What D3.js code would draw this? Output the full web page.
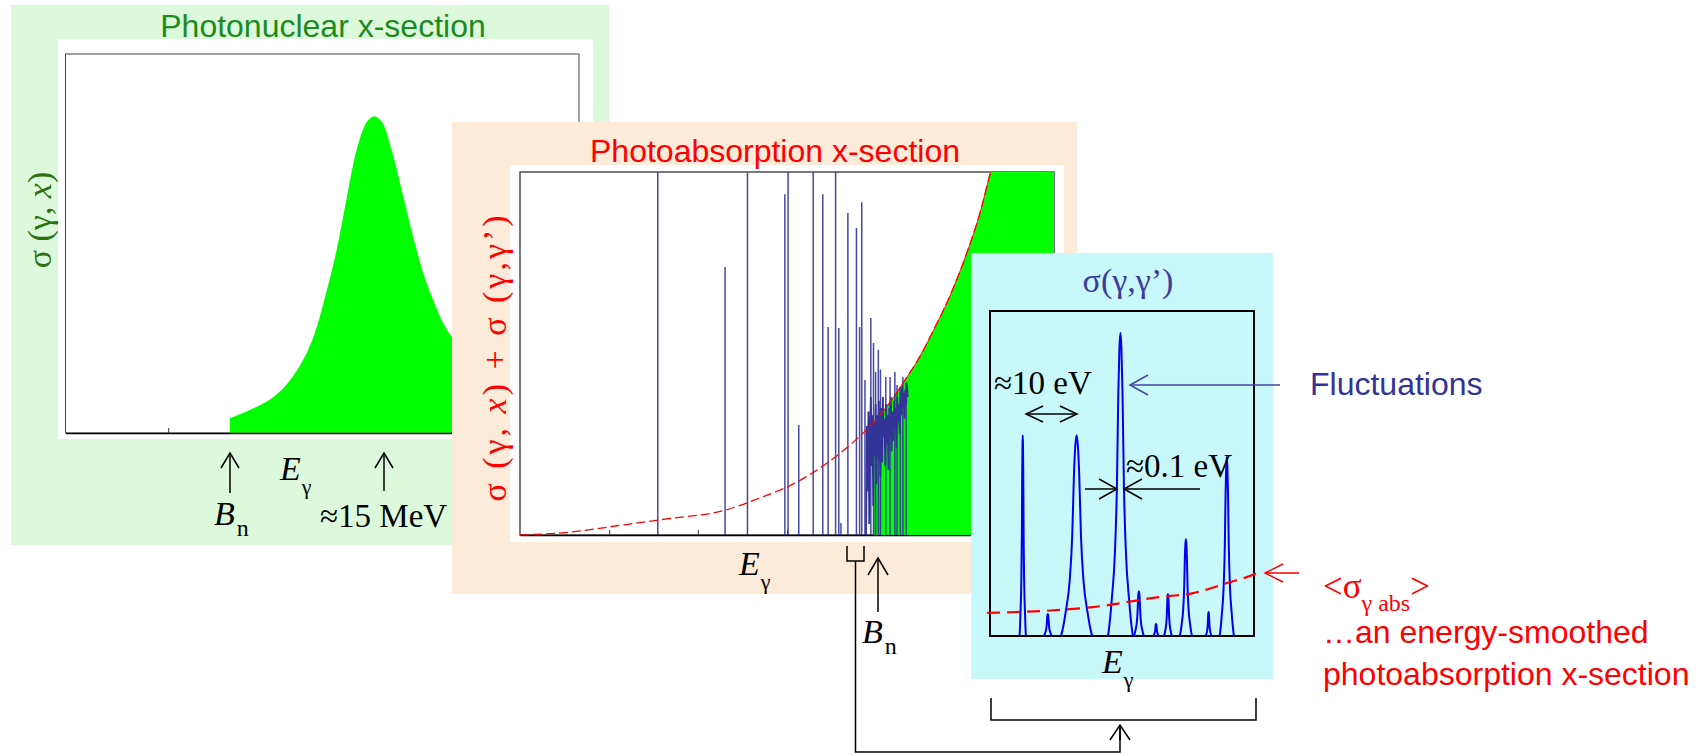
<!DOCTYPE html>
<html><head><meta charset="utf-8">
<script src="https://cdn.jsdelivr.net/npm/d3@7"></script>
<style>body{margin:0;background:#fff;} svg{display:block;}</style>
</head><body>
<svg id="c" width="1700" height="755"></svg>
<script>
// ================= DATA =================
// Panel 1: photonuclear giant resonance (x: arbitrary energy 0-100, y: 0-100)
const gdrPeak = [[32.0,3.9],[35.9,6.1],[39.2,8.3],[42.4,11.8],[45.7,17.9],[48.3,25.4],[50.9,37.7],[52.8,48.3],[54.8,62.3],[56.7,74.7],[58.7,82.1],[60.1,83.6],[61.6,82.1],[63.5,74.7],[65.8,62.3],[67.7,51.8],[69.7,42.1],[71.6,35.1],[73.6,28.9],[75.2,25.4],[80,18],[85,13.5],[90,10.5],[100,7]];
const panel1Ticks = [20];

// Panel 2: photoabsorption
const absCurve = [[0,0],[7.9,0.6],[19.5,2.8],[27.2,4.4],[38.6,6.9],[44.9,10.2],[51.1,14.0],[59.9,22.5],[63.7,27.3],[66.2,31.0],[69.3,36.6],[71.8,42.0],[74.9,49.2],[77.4,56.3],[80.5,65.8],[83.7,77.8],[86.1,88.5],[88.1,99.9],[92,120],[96,146],[100,175]];
const greenStart = 66.2;
const levelSpikes = [[25.8,100],[38.4,73.8],[42.6,99.7],[49.6,93.9],[50.2,100],[52.2,30.3],[54.9,100],[56.7,93.9],[57.7,57.3],[59.1,100],[59.7,57.0],[60.1,3.3],[61.4,88.7],[63.0,84.6],[63.6,57.3],[64.0,91.7],[64.6,42.7],[65.7,59.8],[66.2,52.9],[66.6,44.9],[67.1,51.0],[67.5,45.6],[68.5,43.5],[69.3,43.5],[70.2,44.9],[70.6,41.3],[71.2,40.8],[71.7,43.5],[72.3,41.9]];
const levelBlob = [[64.8,0],[64.95,30],[65.1,12],[65.25,34],[65.4,3],[65.55,29],[65.7,38],[65.85,19],[66.0,33],[66.15,8],[66.3,31],[66.45,22],[66.6,36],[66.75,14],[66.9,33],[67.05,21],[67.2,37],[67.35,24],[67.5,16],[67.65,35],[67.8,20],[67.95,38],[68.1,27],[68.25,32],[68.4,19],[68.55,36],[68.7,25],[68.85,33],[69.0,18],[69.15,35],[69.3,27],[69.45,38],[69.6,23],[69.75,34],[69.9,26],[70.05,37],[70.2,29],[70.35,35],[70.5,24],[70.65,38],[70.8,31],[70.95,36],[71.1,28],[71.25,39],[71.4,33],[71.55,41],[71.7,35],[71.85,39],[72.0,32],[72.15,40],[72.3,36],[72.45,42],[72.6,38]];
const panel2Ticks = [16.7,33.3,50];

// Panel 3: sigma(gamma,gamma') resonances: [centre, height, half-width at base]
const resonances = [[12.4,61.8,1.2],[21.9,6.8,1.5],[32.8,61.8,5.9],[49.4,93.2,4.7],[56.4,13.8,1.9],[62.9,3.7,1.1],[67.4,12.9,1.5],[74.2,29.8,2.3],[82.8,7.4,1.1],[89.7,55.1,2.7]];
const peakProfile = [[-1,0],[-0.85,0.05],[-0.7,0.12],[-0.45,0.27],[-0.28,0.5],[-0.17,0.8],[-0.08,0.95],[0,1],[0.08,0.95],[0.17,0.8],[0.28,0.5],[0.45,0.27],[0.7,0.12],[0.85,0.05],[1,0]];
const smoothAbs = [[-1.1,7.1],[39,8.9],[64.4,12],[76.9,13.2],[89.8,16.3],[101.1,19.4],[103,20.2]];

// ================= DRAWING =================
const svg = d3.select('#c');
const SERIF = "'Liberation Serif','Times New Roman',serif";
const SANS = "'Liberation Sans',Arial,sans-serif";

function arrow(g, x1, y1, x2, y2, o) {
  o = Object.assign({L:15, W:9, color:'#000', sw:1.5, both:false}, o||{});
  g.append('line').attr('x1',x1).attr('y1',y1).attr('x2',x2).attr('y2',y2)
    .attr('stroke',o.color).attr('stroke-width',o.sw);
  const head = (tx,ty,fx,fy) => {
    const dx=tx-fx, dy=ty-fy, len=Math.hypot(dx,dy), ux=dx/len, uy=dy/len, px=-uy, py=ux;
    g.append('path').attr('d',`M${tx-o.L*ux+o.W*px},${ty-o.L*uy+o.W*py}L${tx},${ty}L${tx-o.L*ux-o.W*px},${ty-o.L*uy-o.W*py}`)
      .attr('fill','none').attr('stroke',o.color).attr('stroke-width',o.sw);
  };
  head(x2,y2,x1,y1);
  if (o.both) head(x1,y1,x2,y2);
}
function subText(g, x, y, main, sub, o) {
  const t = g.append('text').attr('x',x).attr('y',y).attr('font-family',SERIF).attr('fill',o.color||'#000');
  t.append('tspan').attr('font-size',o.size).attr('font-style',o.italic?'italic':'normal').text(main);
  t.append('tspan').attr('font-size',o.subSize).attr('dy',o.dy).attr('dx',o.dx||0).text(sub);
  return t;
}

// ---------- Panel 1 ----------
const g1 = svg.append('g');
g1.append('rect').attr('x',11).attr('y',5).attr('width',598).attr('height',540).attr('fill','#dcfadb');
g1.append('rect').attr('x',58).attr('y',39).attr('width',535).attr('height',400).attr('fill','#fff');
const x1 = d3.scaleLinear([0,100],[65.5,579]);
const y1 = d3.scaleLinear([0,100],[433,54]);
g1.append('rect').attr('x',x1(0)).attr('y',y1(100)).attr('width',x1(100)-x1(0)).attr('height',y1(0)-y1(100))
  .attr('fill','none').attr('stroke','#444').attr('stroke-width',1);
g1.append('path').datum(gdrPeak)
  .attr('d', d3.area().x(d=>x1(d[0])).y0(y1(0)).y1(d=>y1(d[1])).curve(d3.curveCatmullRom))
  .attr('fill','#00ff00');
g1.append('g').attr('transform',`translate(0,${y1(0)})`)
  .call(d3.axisBottom(x1).tickValues(panel1Ticks).tickSizeInner(-5).tickSizeOuter(0).tickFormat(''))
  .call(a=>{a.select('.domain').attr('stroke','#000').attr('stroke-width',1.5); a.selectAll('line').attr('stroke','#333');});
g1.append('text').attr('x',323).attr('y',37).attr('text-anchor','middle').attr('font-family',SANS)
  .attr('font-size',32).attr('fill','#1e8a1e').text('Photonuclear x-section');
{
  const t = g1.append('text').attr('transform','translate(51,220) rotate(-90)').attr('text-anchor','middle')
    .attr('font-family',SERIF).attr('font-size',34).attr('fill','#2f700f');
  t.append('tspan').text('σ (γ, ');
  t.append('tspan').attr('font-style','italic').text('x');
  t.append('tspan').text(')');
}
arrow(g1, 230, 493, 230, 453, {L:15, W:9});
arrow(g1, 384, 491, 384, 453, {L:15, W:9});
subText(g1, 214, 525, 'B', 'n', {size:34, subSize:24, dy:11, dx:2, italic:true});
subText(g1, 280, 480, 'E', 'γ', {size:34, subSize:22, dy:14, dx:1, italic:true});
g1.append('text').attr('x',320).attr('y',527).attr('font-family',SERIF).attr('font-size',33).text('≈15 MeV');

// ---------- Panel 2 ----------
const g2 = svg.append('g');
g2.append('rect').attr('x',452).attr('y',122).attr('width',625).attr('height',472).attr('fill','#fdebd9');
g2.append('rect').attr('x',510).attr('y',165).attr('width',554).attr('height',377).attr('fill','#fff');
const x2 = d3.scaleLinear([0,100],[520,1054]);
const y2 = d3.scaleLinear([0,100],[535,172]);
svg.append('defs').append('clipPath').attr('id','clip2').append('rect')
  .attr('x',x2(0)).attr('y',y2(100)).attr('width',x2(100)-x2(0)).attr('height',y2(0)-y2(100));
g2.append('rect').attr('x',x2(0)).attr('y',y2(100)).attr('width',x2(100)-x2(0)).attr('height',y2(0)-y2(100))
  .attr('fill','none').attr('stroke','#333').attr('stroke-width',1.3);
g2.append('g').attr('transform',`translate(0,${y2(0)})`)
  .call(d3.axisBottom(x2).tickValues(panel2Ticks).tickSizeInner(-5).tickSizeOuter(0).tickFormat(''))
  .call(a=>{a.select('.domain').attr('stroke','#000').attr('stroke-width',1.5); a.selectAll('line').attr('stroke','#333');});
const gc = g2.append('g').attr('clip-path','url(#clip2)');
const absLine = d3.line().x(d=>x2(d[0])).y(d=>y2(d[1])).curve(d3.curveMonotoneX);
const greenPts = absCurve.filter(d=>d[0]>=greenStart);
gc.append('path').datum(greenPts)
  .attr('d', d3.area().x(d=>x2(d[0])).y0(y2(0)).y1(d=>y2(d[1])).curve(d3.curveMonotoneX))
  .attr('fill','#00ff00');
gc.append('path').datum(greenPts).attr('d', absLine)
  .attr('fill','none').attr('stroke','#ff2020').attr('stroke-width',1);
gc.selectAll('line.spike').data(levelSpikes).join('line').attr('class','spike')
  .attr('x1',d=>x2(d[0])).attr('x2',d=>x2(d[0])).attr('y1',y2(0)).attr('y2',d=>y2(d[1]))
  .attr('stroke','#33339a').attr('stroke-width',1.5).attr('stroke-opacity',0.9);
gc.append('path').datum(levelBlob)
  .attr('d', d3.line().x(d=>x2(d[0])).y(d=>y2(d[1])))
  .attr('fill','none').attr('stroke','#33339a').attr('stroke-width',1.8);
gc.append('path').datum(absCurve).attr('d', absLine)
  .attr('fill','none').attr('stroke','#ff0000').attr('stroke-width',1.3).attr('stroke-dasharray','9,4');
g2.append('text').attr('x',775).attr('y',162).attr('text-anchor','middle').attr('font-family',SANS)
  .attr('font-size',32).attr('fill','#ff0000').text('Photoabsorption x-section');
{
  const t = g2.append('text').attr('transform','translate(506,357) rotate(-90)').attr('text-anchor','middle')
    .attr('font-family',SERIF).attr('font-size',34).attr('letter-spacing',3).attr('fill','#ff0000');
  t.append('tspan').text('σ (γ, ');
  t.append('tspan').attr('font-style','italic').text('x');
  t.append('tspan').text(') + σ (γ,γ’)');
}
subText(g2, 739, 575, 'E', 'γ', {size:34, subSize:22, dy:14, dx:1, italic:true});
arrow(g2, 878, 612, 878, 558, {L:17, W:10});
subText(g2, 862, 643, 'B', 'n', {size:34, subSize:24, dy:11, dx:2, italic:true});

// ---------- Panel 3 ----------
const g3 = svg.append('g');
g3.append('rect').attr('x',971).attr('y',253).attr('width',302).attr('height',426).attr('fill','#c9f8fb');
const x3 = d3.scaleLinear([0,100],[990,1254]);
const y3 = d3.scaleLinear([0,100],[636,311]);
g3.append('rect').attr('x',x3(0)).attr('y',y3(100)).attr('width',x3(100)-x3(0)).attr('height',y3(0)-y3(100))
  .attr('fill','none').attr('stroke','#000').attr('stroke-width',2);
const peakLine = d3.line().x(d=>x3(d[0])).y(d=>y3(d[1])).curve(d3.curveMonotoneX);
g3.selectAll('path.res').data(resonances).join('path').attr('class','res')
  .attr('d', r => peakLine(peakProfile.map(p => [r[0] + p[0]*r[2], p[1]*r[1]])))
  .attr('fill','none').attr('stroke','#0000ee').attr('stroke-width',2);
g3.append('path').datum(smoothAbs)
  .attr('d', d3.line().x(d=>x3(d[0])).y(d=>y3(d[1])).curve(d3.curveMonotoneX))
  .attr('fill','none').attr('stroke','#ff0000').attr('stroke-width',2.2).attr('stroke-dasharray','13,7');
g3.append('text').attr('x',1128).attr('y',292).attr('text-anchor','middle')
  .attr('font-family',SERIF).attr('font-size',34).attr('fill','#3c3c9c').text('σ(γ,γ’)');
g3.append('text').attr('x',994).attr('y',394).attr('font-family',SERIF).attr('font-size',33).text('≈10 eV');
arrow(g3, 1026, 414, 1077, 414, {L:17, W:8, both:true});
g3.append('text').attr('x',1126).attr('y',477).attr('font-family',SERIF).attr('font-size',33).text('≈0.1 eV');
arrow(g3, 1085, 489, 1117, 489, {L:18, W:10});
arrow(g3, 1200, 489, 1124, 489, {L:18, W:10});
subText(g3, 1102, 673, 'E', 'γ', {size:34, subSize:22, dy:14, dx:1, italic:true});

// ---------- annotations ----------
const ga = svg.append('g');
ga.append('path').attr('d','M847,546V561H864V546').attr('fill','none').attr('stroke','#000').attr('stroke-width',1.5);
ga.append('path').attr('d','M855.5,561V752H1120V727').attr('fill','none').attr('stroke','#000').attr('stroke-width',1.5);
arrow(ga, 1120, 740, 1120, 725, {L:15, W:10});
ga.append('path').attr('d','M991,698V720H1256V698').attr('fill','none').attr('stroke','#000').attr('stroke-width',1.5);
arrow(ga, 1280, 385, 1130, 385, {L:18, W:10, color:'#4545a5'});
ga.append('text').attr('x',1310).attr('y',395).attr('font-family',SANS).attr('font-size',32).attr('fill','#33339a').text('Fluctuations');
arrow(ga, 1299, 573, 1265, 573, {L:18, W:9, color:'#ff0000'});
{
  const t = ga.append('text').attr('x',1323).attr('y',598).attr('font-family',SERIF).attr('font-size',35).attr('fill','#ff0000');
  t.append('tspan').text('<σ');
  t.append('tspan').attr('font-size',24).attr('dy',13).text('γ abs');
  t.append('tspan').attr('dy',-13).text('>');
}
ga.append('text').attr('x',1323).attr('y',643).attr('font-family',SANS).attr('font-size',32).attr('fill','#ff0000').text('…an energy-smoothed');
ga.append('text').attr('x',1323).attr('y',685).attr('font-family',SANS).attr('font-size',32).attr('fill','#ff0000').text('photoabsorption x-section');
</script>
</body></html>
